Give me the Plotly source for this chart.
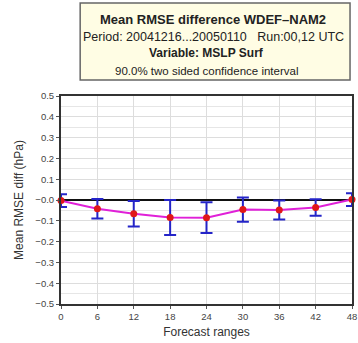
import plotly.graph_objects as go

ranges = [0, 6, 12, 18, 24, 30, 36, 42, 48]
mean_diff = [-0.003, -0.042, -0.066, -0.084, -0.085, -0.046, -0.048, -0.036, 0.002]
ci_half = [0.031, 0.047, 0.061, 0.084, 0.074, 0.058, 0.046, 0.040, 0.031]

ytick_vals = [0.5, 0.4, 0.3, 0.2, 0.1, 0.0, -0.1, -0.2, -0.3, -0.4, -0.5]
ytick_text = ["0.5", "0.4", "0.3", "0.2", "0.1", "\u22120.0", "\u22120.1", "\u22120.2",
              "\u22120.3", "\u22120.4", "\u22120.5"]
xtick_vals = [0, 6, 12, 18, 24, 30, 36, 42, 48]

W, H = 358, 343
ML, MR, MT, MB = 61, 1, 96, 39
PW = W - ML - MR
PH = H - MT - MB

def px(x):
    return (x - ML) / PW

def py(y):
    return (H - MB - y) / PH

fig = go.Figure()

# zero reference line
fig.add_trace(go.Scatter(x=[ranges[0], ranges[-1]], y=[0, 0], mode="lines",
                         line=dict(color="#111111", width=2), hoverinfo="skip",
                         showlegend=False))

fig.add_trace(go.Scatter(
    x=ranges, y=mean_diff, mode="lines+markers",
    line=dict(color="#e020d8", width=2),
    marker=dict(color="#e01818", size=7),
    error_y=dict(type="data", array=ci_half, color="#2424c8", thickness=2, width=6),
    showlegend=False, cliponaxis=False))

fig.update_layout(
    width=W, height=H,
    margin=dict(l=ML, r=MR, t=MT, b=MB),
    paper_bgcolor="white", plot_bgcolor="white",
    font=dict(family="Liberation Sans, Arial, sans-serif", color="#333333"),
    xaxis=dict(range=[0, 48], tickvals=xtick_vals, showgrid=True,
               gridcolor="#dddddd", gridwidth=1, zeroline=False,
               showline=True, linecolor="#333333", linewidth=2, mirror=True,
               ticks="outside", ticklen=3, tickcolor="#555555",
               ticklabeloverflow="allow",
               tickfont=dict(size=9.5, color="#444444"),
               title=dict(text="Forecast ranges", font=dict(size=12, color="#333333"),
                          standoff=6)),
    yaxis=dict(range=[-0.5, 0.5], tickvals=ytick_vals, ticktext=ytick_text,
               showgrid=True, gridcolor="#dddddd", gridwidth=1, zeroline=False,
               minor=dict(dtick=0.05, showgrid=True, gridcolor="#e6e6e6", gridwidth=1),
               showline=True, linecolor="#333333", linewidth=2, mirror=True,
               ticks="outside", ticklen=3, tickcolor="#555555",
               tickfont=dict(size=9.5, color="#444444"),
               title=dict(text="Mean RMSE diff (hPa)", font=dict(size=12, color="#333333"),
                          standoff=9)),
)

# title box
fig.add_shape(type="rect", xref="paper", yref="paper",
              x0=px(80.5), x1=px(355), y0=py(80), y1=py(3),
              fillcolor="#fffde4", line=dict(color="#666666", width=1.5), layer="above")

lines = [
    ("<b>Mean RMSE difference WDEF\u2013NAM2</b>", 216, 19.5, 13),
    ("Period: 20041216...20050110   Run:00,12 UTC", 216, 36.5, 12.5),
    ("<b>Variable: MSLP Surf</b>", 209, 53.5, 12),
    ("90.0% two sided confidence interval", 209.5, 70.5, 11.5),
]
for txt, xx, yy, fs in lines:
    fig.add_annotation(text=txt, xref="paper", yref="paper", x=px(xx), y=py(yy),
                       xanchor="center", yanchor="middle", showarrow=False,
                       font=dict(size=fs, color="#222222"))

fig.write_html("out.html")
